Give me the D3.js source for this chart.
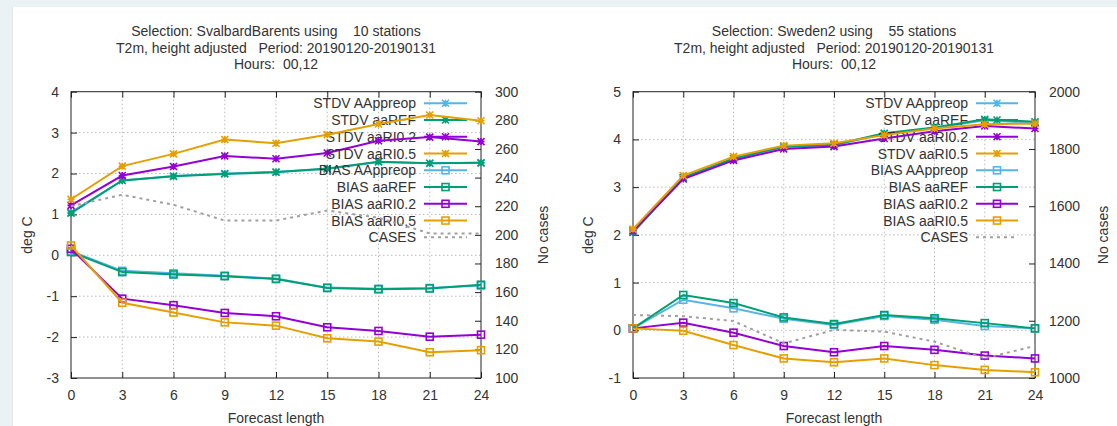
<!DOCTYPE html>
<html>
<head>
<meta charset="utf-8">
<title>T2m verification</title>
<script src="https://cdn.jsdelivr.net/npm/d3@7"></script>
<style>
  body { margin: 0; background: #eaf2f5; }
  svg { display: block; }
  text { font-family: "Liberation Sans", Arial, sans-serif; fill: #333; }
</style>
</head>
<body>
<script>
// forecast hours
var hours = [0, 3, 6, 9, 12, 15, 18, 21, 24];
var seriesNames = ["STDV AAppreop", "STDV aaREF", "STDV aaRI0.2", "STDV aaRI0.5",
                   "BIAS AAppreop", "BIAS aaREF", "BIAS aaRI0.2", "BIAS aaRI0,5", "CASES"];
var seriesNamesB = ["STDV AAppreop", "STDV aaREF", "STDV aaRI0.2", "STDV aaRI0.5",
                    "BIAS AAppreop", "BIAS aaREF", "BIAS aaRI0.2", "BIAS aaRI0.5", "CASES"];
var colors = ["#56b4e9", "#009e73", "#9400d3", "#e69f00"];

// Svalbard/Barents
var svStdvPre  = [1.05, 1.83, 1.94, 2.00, 2.04, 2.11, 2.28, 2.25, 2.26];
var svStdvRef  = [1.03, 1.83, 1.93, 1.99, 2.03, 2.12, 2.29, 2.25, 2.26];
var svStdvRi02 = [1.22, 1.95, 2.17, 2.43, 2.36, 2.50, 2.80, 2.89, 2.78];
var svStdvRi05 = [1.37, 2.18, 2.48, 2.83, 2.74, 2.95, 3.21, 3.43, 3.29];
var svBiasPre  = [0.10, -0.38, -0.44, -0.50, -0.57, -0.79, -0.82, -0.80, -0.74];
var svBiasRef  = [0.08, -0.41, -0.47, -0.51, -0.58, -0.80, -0.83, -0.81, -0.72];
var svBiasRi02 = [0.16, -1.06, -1.22, -1.41, -1.49, -1.76, -1.85, -1.99, -1.94];
var svBiasRi05 = [0.24, -1.16, -1.40, -1.64, -1.72, -2.03, -2.11, -2.37, -2.32];
var svCases    = [220, 228, 221, 210, 210, 217, 212, 201, 201];

// Sweden2
var swStdvPre  = [2.08, 3.20, 3.59, 3.84, 3.88, 4.12, 4.24, 4.40, 4.35];
var swStdvRef  = [2.05, 3.20, 3.60, 3.85, 3.89, 4.13, 4.25, 4.42, 4.37];
var swStdvRi02 = [2.08, 3.17, 3.56, 3.80, 3.85, 4.02, 4.17, 4.28, 4.23];
var swStdvRi05 = [2.12, 3.24, 3.64, 3.87, 3.92, 4.09, 4.23, 4.32, 4.33];
var swBiasPre  = [0.04, 0.64, 0.46, 0.24, 0.11, 0.30, 0.22, 0.09, 0.04];
var swBiasRef  = [0.04, 0.74, 0.57, 0.27, 0.13, 0.32, 0.25, 0.15, 0.04];
var swBiasRi02 = [0.04, 0.16, -0.05, -0.33, -0.46, -0.33, -0.41, -0.53, -0.59];
var swBiasRi05 = [0.04, -0.01, -0.31, -0.59, -0.67, -0.59, -0.73, -0.83, -0.88];
var swCases    = [1220, 1216, 1199, 1121, 1168, 1162, 1127, 1069, 1112];

var svTicksY  = [-3, -2, -1, 0, 1, 2, 3, 4];
var svTicksY2 = [100, 120, 140, 160, 180, 200, 220, 240, 260, 280, 300];
var swTicksY  = [-1, 0, 1, 2, 3, 4, 5];
var swTicksY2 = [1000, 1200, 1400, 1600, 1800, 2000];

var svg = d3.select("body").append("svg")
    .attr("width", 1117).attr("height", 426);

// white page panel
svg.append("rect").attr("x", 12).attr("y", 7).attr("width", 1105).attr("height", 419)
    .attr("fill", "#fff");
svg.append("line").attr("x1", 12.5).attr("x2", 12.5).attr("y1", 7).attr("y2", 426)
    .attr("stroke", "#e2e6e8");

// plain ascii hyphen like gnuplot
var fmt = function (d) { return String(d); };

function drawPanel(p) {
  var x = d3.scaleLinear().domain([0, 24]).range([p.left, p.right]);
  var y = d3.scaleLinear().domain(p.yDom).range([378, 91.7]);
  var y2 = d3.scaleLinear().domain(p.y2Dom).range([378, 91.7]);
  var g = svg.append("g");
  var cx = (p.left + p.right) / 2;

  // title
  p.title.forEach(function (t, i) {
    g.append("text").attr("x", cx).attr("y", 36 + i * 16.5)
      .attr("text-anchor", "middle").attr("font-size", 14).style("white-space", "pre")
      .text(t);
  });

  // grid
  hours.forEach(function (h) {
    if (h === 0 || h === 24) return;
    g.append("line").attr("x1", x(h)).attr("x2", x(h)).attr("y1", 91.7).attr("y2", 378)
      .attr("stroke", "#bbb").attr("stroke-dasharray", "1.5,2.5");
  });
  p.ticksY.forEach(function (v) {
    if (v === p.yDom[0] || v === p.yDom[1]) return;
    g.append("line").attr("x1", p.left).attr("x2", p.right).attr("y1", y(v)).attr("y2", y(v))
      .attr("stroke", "#bbb").attr("stroke-dasharray", "1.5,2.5");
  });

  // axes (ticks inward)
  var ax = g.append("g").attr("transform", "translate(0,378)")
    .call(d3.axisBottom(x).tickValues(hours).tickFormat(fmt).tickSize(-6).tickPadding(12));
  var axTop = g.append("g").attr("transform", "translate(0,91.7)")
    .call(d3.axisTop(x).tickValues(hours).tickSize(-6).tickFormat(""));
  var ay = g.append("g").attr("transform", "translate(" + p.left + ",0)")
    .call(d3.axisLeft(y).tickValues(p.ticksY).tickFormat(fmt).tickSize(-6).tickPadding(12));
  var ay2 = g.append("g").attr("transform", "translate(" + p.right + ",0)")
    .call(d3.axisRight(y2).tickValues(p.ticksY2).tickFormat(fmt).tickSize(-6).tickPadding(14));
  [ax, axTop, ay, ay2].forEach(function (a) {
    a.select(".domain").remove();
    a.selectAll("line").attr("stroke", "#222");
    a.selectAll("text").attr("font-size", 14).attr("fill", "#333")
      .style("font-family", "'Liberation Sans', Arial, sans-serif");
  });
  g.append("rect").attr("x", p.left).attr("y", 91.7)
    .attr("width", p.right - p.left).attr("height", 378 - 91.7)
    .attr("fill", "none").attr("stroke", "#222").attr("stroke-width", 1);

  // axis labels
  g.append("text").attr("x", cx).attr("y", 423).attr("text-anchor", "middle")
    .attr("font-size", 14).text("Forecast length");
  g.append("text").attr("transform", "translate(" + p.ylabX + ",235) rotate(-90)")
    .attr("text-anchor", "middle").attr("font-size", 14).text("deg C");
  g.append("text").attr("transform", "translate(" + p.y2labX + ",235) rotate(-90)")
    .attr("text-anchor", "middle").attr("font-size", 14).text("No cases");

  var line = d3.line().x(function (d, i) { return x(hours[i]); });

  function star(sel, px, py, c) {
    var r = 3.5;
    sel.append("path")
      .attr("d", "M" + (px - r) + "," + py + "H" + (px + r) + "M" + px + "," + (py - r) + "V" + (py + r) +
        "M" + (px - r) + "," + (py - r) + "L" + (px + r) + "," + (py + r) +
        "M" + (px - r) + "," + (py + r) + "L" + (px + r) + "," + (py - r))
      .attr("stroke", c).attr("stroke-width", 1.6).attr("fill", "none");
  }
  function square(sel, px, py, c) {
    sel.append("rect").attr("x", px - 3.5).attr("y", py - 3.5).attr("width", 7).attr("height", 7)
      .attr("stroke", c).attr("stroke-width", 1.6).attr("fill", "none");
  }

  var series = p.stdv.map(function (d, i) { return { v: d, c: colors[i], m: star, ax: y }; })
    .concat(p.bias.map(function (d, i) { return { v: d, c: colors[i], m: square, ax: y }; }));

  series.forEach(function (s, k) {
    var ly = 103.3 + k * 16.75;
    // key entry
    g.append("text").attr("x", p.keyText).attr("y", ly + 5).attr("text-anchor", "end")
      .attr("font-size", 14).attr("fill", "#444").text(p.names[k]);
    g.append("line").attr("x1", p.keyLine[0]).attr("x2", p.keyLine[1]).attr("y1", ly).attr("y2", ly)
      .attr("stroke", s.c).attr("stroke-width", 2);
    s.m(g, (p.keyLine[0] + p.keyLine[1]) / 2, ly, s.c);
    // curve
    g.append("path").datum(s.v)
      .attr("d", line.y(function (d) { return s.ax(d); }))
      .attr("fill", "none").attr("stroke", s.c).attr("stroke-width", 2);
    s.v.forEach(function (d, i) { s.m(g, x(hours[i]), s.ax(d), s.c); });
  });

  // cases
  var cy = 103.3 + 8 * 16.75;
  g.append("text").attr("x", p.keyText).attr("y", cy + 5).attr("text-anchor", "end")
    .attr("font-size", 14).attr("fill", "#444").text(p.names[8]);
  g.append("line").attr("x1", p.keyLine[0]).attr("x2", p.keyLine[1]).attr("y1", cy).attr("y2", cy)
    .attr("stroke", "#a0a0a0").attr("stroke-width", 2).attr("stroke-dasharray", "3,4");
  g.append("path").datum(p.cases)
    .attr("d", line.y(function (d) { return y2(d); }))
    .attr("fill", "none").attr("stroke", "#a0a0a0").attr("stroke-width", 2)
    .attr("stroke-dasharray", "3,4");
}

drawPanel({
  left: 71, right: 481, yDom: [-3, 4], y2Dom: [100, 300],
  ticksY: svTicksY, ticksY2: svTicksY2,
  title: ["Selection: SvalbardBarents using    10 stations",
          "T2m, height adjusted   Period: 20190120-20190131", "Hours:  00,12"],
  ylabX: 32, y2labX: 548, keyText: 416, keyLine: [424, 467], names: seriesNames,
  stdv: [svStdvPre, svStdvRef, svStdvRi02, svStdvRi05],
  bias: [svBiasPre, svBiasRef, svBiasRi02, svBiasRi05], cases: svCases
});

drawPanel({
  left: 633, right: 1035, yDom: [-1, 5], y2Dom: [1000, 2000],
  ticksY: swTicksY, ticksY2: swTicksY2,
  title: ["Selection: Sweden2 using    55 stations",
          "T2m, height adjusted   Period: 20190120-20190131", "Hours:  00,12"],
  ylabX: 593, y2labX: 1108, keyText: 968, keyLine: [976, 1018], names: seriesNamesB,
  stdv: [swStdvPre, swStdvRef, swStdvRi02, swStdvRi05],
  bias: [swBiasPre, swBiasRef, swBiasRi02, swBiasRi05], cases: swCases
});
</script>
</body>
</html>
